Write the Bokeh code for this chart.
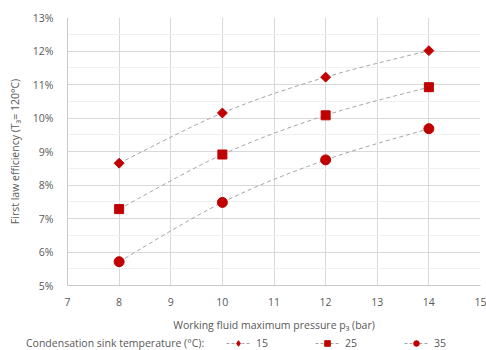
from bokeh.plotting import figure
from bokeh.models import (ColumnDataSource, Legend, LegendItem, NumeralTickFormatter,
                          FixedTicker, Range1d)
from bokeh.embed import file_html
from bokeh.resources import INLINE
import numpy as np

pressure = [8, 10, 12, 14]
eff_15 = [0.0865, 0.1015, 0.1122, 0.1201]
eff_25 = [0.0728, 0.0891, 0.1008, 0.1092]
eff_35 = [0.0571, 0.0748, 0.0875, 0.0968]
series_labels = ["15", "25", "35"]
legend_title = "Condensation sink temperature (°C):"
x_ticks = [7, 8, 9, 10, 11, 12, 13, 14, 15]
y_ticks = [0.05, 0.06, 0.07, 0.08, 0.09, 0.10, 0.11, 0.12, 0.13]

FONT = "Open Sans"
TXT = "#595959"
RED = "#C00000"
LINE = "#A6A6A6"

p = figure(width=486, height=336, output_backend="svg", toolbar_location=None,
           x_range=Range1d(7, 15), y_range=Range1d(0.05, 0.13),
           min_border_left=67, min_border_right=6, min_border_top=17, min_border_bottom=51)
p.outline_line_color = None
p.background_fill_color = "white"

p.xaxis.ticker = FixedTicker(ticks=x_ticks)
p.yaxis.ticker = FixedTicker(ticks=y_ticks, minor_ticks=[0.055, 0.065, 0.075, 0.085, 0.095, 0.105, 0.115, 0.125])
p.yaxis.formatter = NumeralTickFormatter(format="0%")
for ax in (p.xaxis, p.yaxis):
    ax.major_tick_line_color = None
    ax.minor_tick_line_color = None
    ax.axis_line_color = "#C9C9C9"
    ax.major_label_text_font = FONT
    ax.major_label_text_font_size = "10.5px"
    ax.major_label_text_color = TXT
    ax.axis_label_text_font = FONT
    ax.axis_label_text_font_size = "10.5px"
    ax.axis_label_text_color = TXT
    ax.axis_label_text_font_style = "normal"
p.xaxis.axis_label = "Working fluid maximum pressure p\u2083 (bar)"
p.yaxis.axis_label = "First law efficiency (T\u2083= 120°C)"
p.xaxis.major_label_standoff = 6
p.yaxis.major_label_standoff = 8
p.xaxis.axis_label_standoff = 9
p.yaxis.axis_label_standoff = 8

p.xgrid.grid_line_color = "#D9D9D9"
p.ygrid.grid_line_color = "#D9D9D9"
p.ygrid.minor_grid_line_color = "#F0F0F0"

def bezier_source(xs, ys):
    n = len(xs)
    x0, y0, x1, y1, cx0, cy0, cx1, cy1 = [], [], [], [], [], [], [], []
    for i in range(n - 1):
        pm = max(i - 1, 0)
        pp = min(i + 2, n - 1)
        x0.append(xs[i]); y0.append(ys[i]); x1.append(xs[i + 1]); y1.append(ys[i + 1])
        cx0.append(xs[i] + (xs[i + 1] - xs[pm]) / 6.0)
        cy0.append(ys[i] + (ys[i + 1] - ys[pm]) / 6.0)
        cx1.append(xs[i + 1] - (xs[pp] - xs[i]) / 6.0)
        cy1.append(ys[i + 1] - (ys[pp] - ys[i]) / 6.0)
    return ColumnDataSource(dict(x0=x0, y0=y0, x1=x1, y1=y1, cx0=cx0, cy0=cy0, cx1=cx1, cy1=cy1))

series = [eff_15, eff_25, eff_35]
markers = [("square", np.pi / 4, 7), ("square", 0, 9), ("circle", 0, 10)]
legend_markers = [("diamond", 10), ("square", 7), ("circle", 8)]
for ys, (mk, ang, sz) in zip(series, markers):
    p.bezier(x0="x0", y0="y0", x1="x1", y1="y1", cx0="cx0", cy0="cy0", cx1="cx1", cy1="cy1",
             source=bezier_source(pressure, ys), line_color=LINE, line_width=1, line_dash="4 3")
    p.scatter(x=pressure, y=ys, marker=mk, angle=ang, size=sz, fill_color=RED, line_color=RED)

# legend strip (separate root so it spans the full width)
q = figure(width=486, height=14, output_backend="svg", toolbar_location=None,
           x_range=Range1d(0, 1), y_range=Range1d(0, 1),
           min_border_left=0, min_border_right=0, min_border_top=0, min_border_bottom=0)
q.axis.visible = False
q.grid.visible = False
q.outline_line_color = None

items = []
for ys, lab, (mk, sz) in zip(series, series_labels, legend_markers):
    ll = q.line(x=pressure, y=ys, line_color=LINE, line_width=1, line_dash="3 2")
    ss = q.scatter(x=pressure, y=ys, marker=mk, size=sz, fill_color=RED, line_color=RED)
    items.append(LegendItem(label=lab, renderers=[ll, ss]))
blank = q.line(x=pressure, y=eff_15, line_alpha=0)

leg = Legend(items=items, orientation="horizontal", location=(226, 0),
             label_text_font=FONT, label_text_font_size="10.5px", label_text_color=TXT,
             glyph_width=24, glyph_height=14, label_height=14, label_width=20,
             label_standoff=6, spacing=39, padding=0, margin=0,
             border_line_color=None, background_fill_alpha=0)
q.add_layout(leg)
tleg = Legend(items=[LegendItem(label=legend_title, renderers=[blank])],
              orientation="horizontal", location=(26, 0),
              label_text_font=FONT, label_text_font_size="10.5px", label_text_color=TXT,
              glyph_width=0, glyph_height=14, label_height=14, label_standoff=0,
              padding=0, margin=0, border_line_color=None, background_fill_alpha=0)
q.add_layout(tleg)

open("out.html", "w").write(file_html([p, q], INLINE))
